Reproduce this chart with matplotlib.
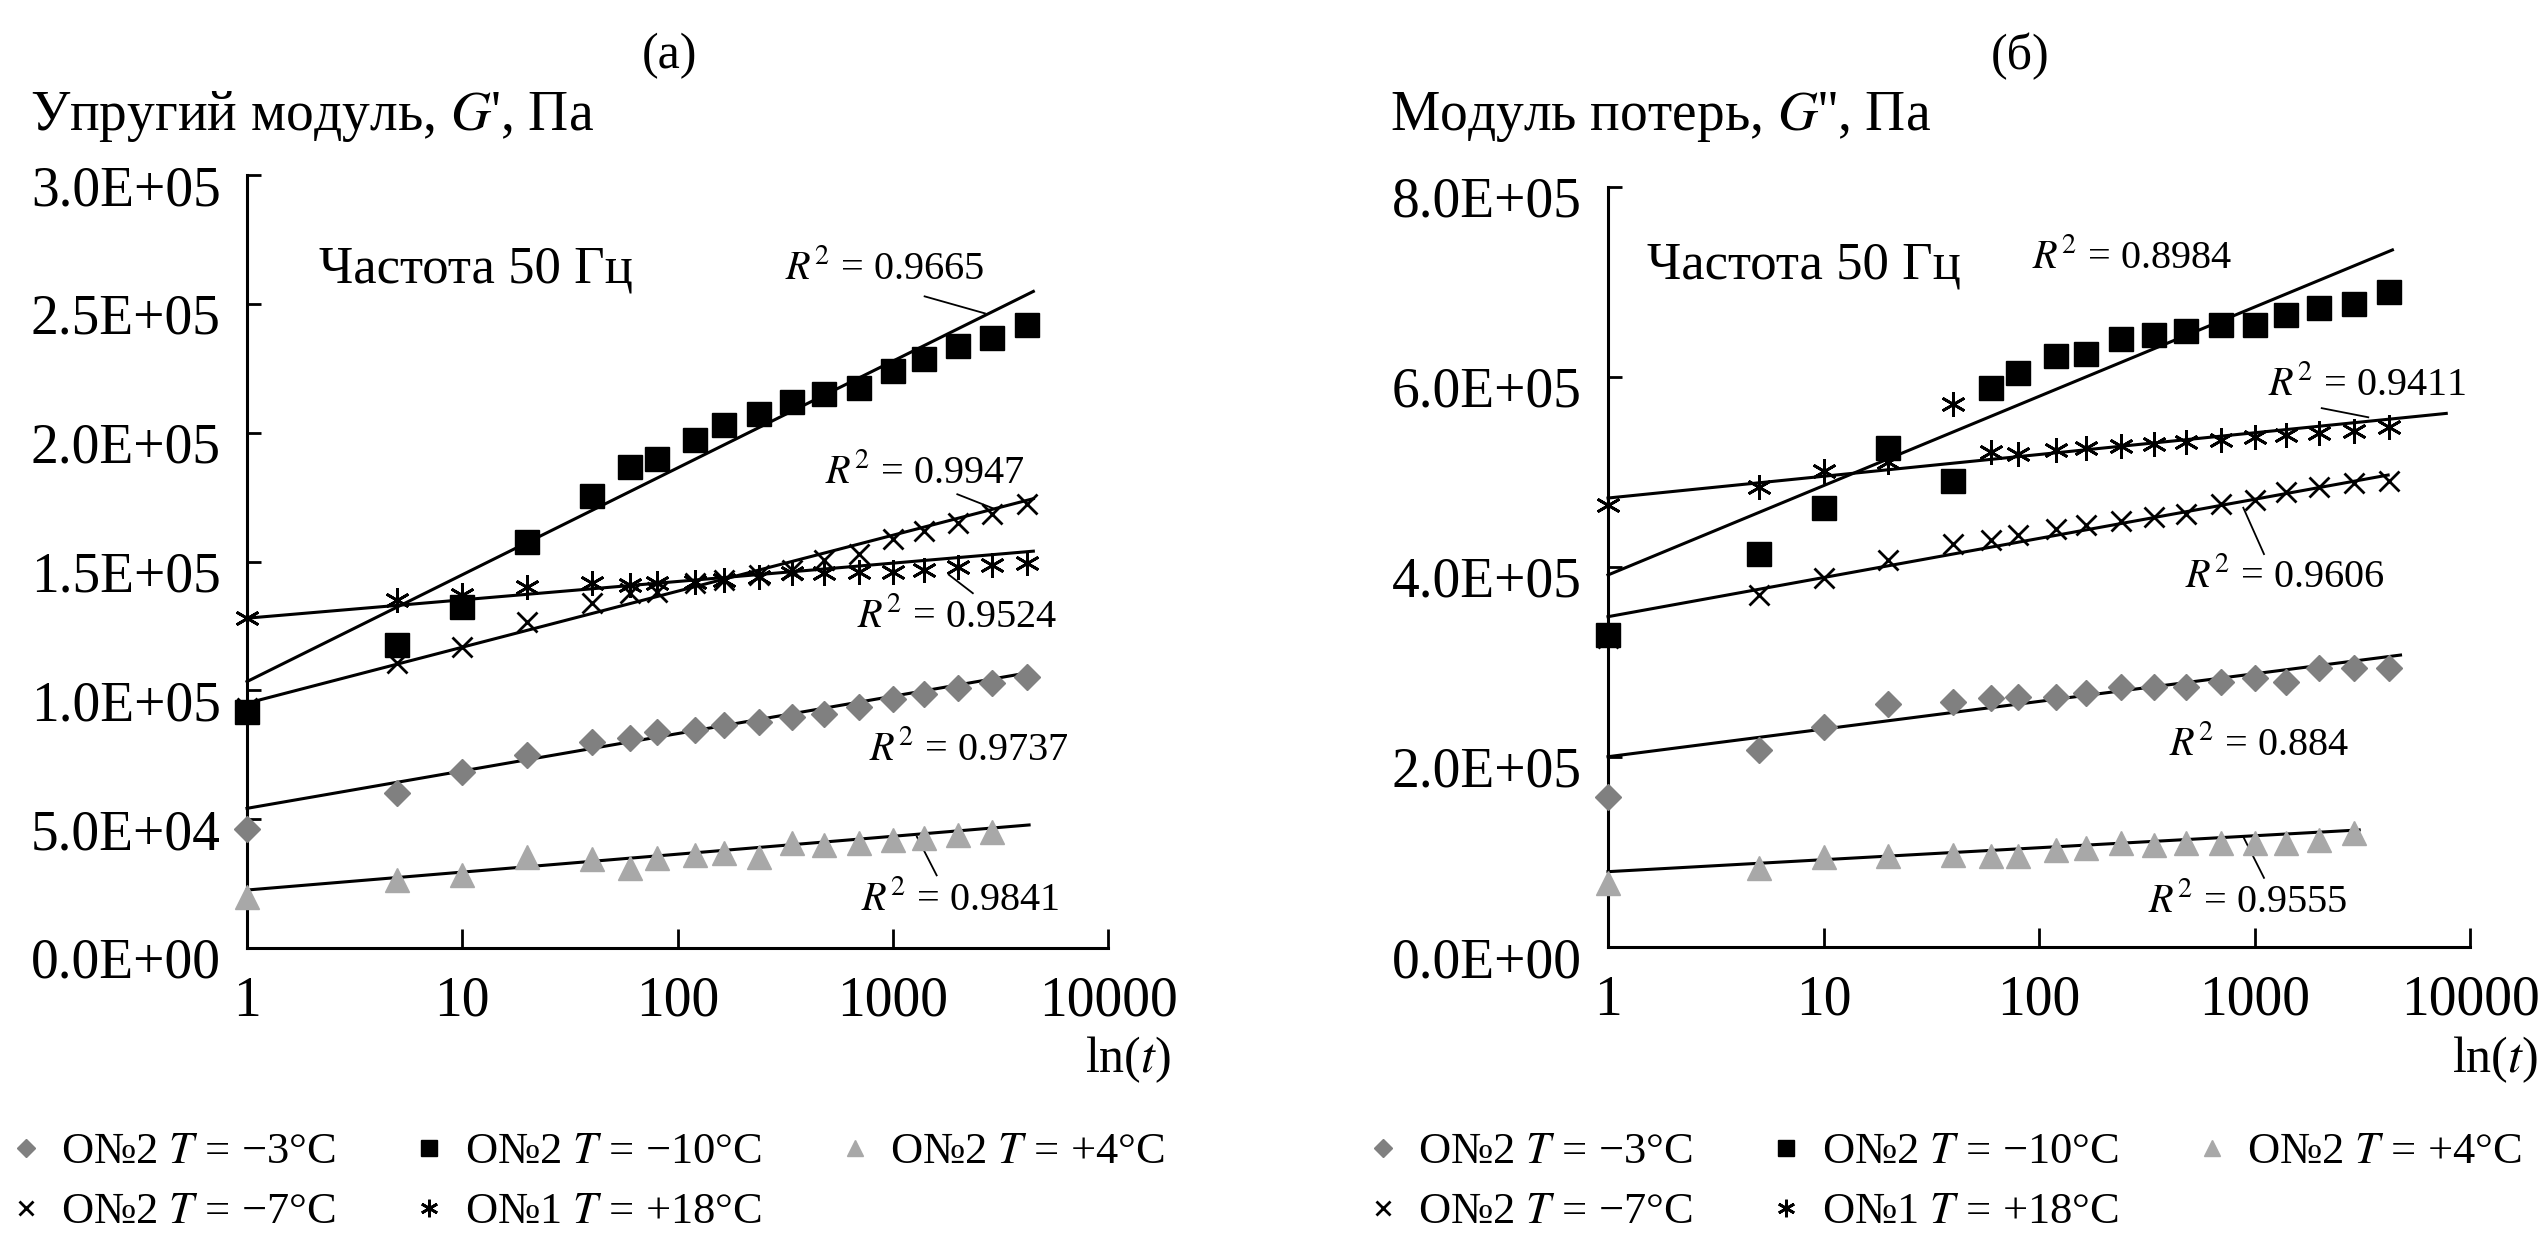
import numpy as np
import matplotlib
matplotlib.use('Agg')
import matplotlib.pyplot as plt
import matplotlib.transforms as mtransforms
from matplotlib.lines import Line2D
from matplotlib.ticker import FixedLocator, FuncFormatter, NullLocator

plt.rcParams['font.family'] = ['Liberation Serif', 'DejaVu Serif']
plt.rcParams['mathtext.fontset'] = 'stix'

# time points, ln(t) axis
t = [1, 5, 10, 20, 40, 60, 80, 120, 165, 240, 340, 480, 700, 1000, 1400, 2000, 2900, 4200]

# (a) elastic modulus G', Pa
g1_m3 = [46000, 60300, 68400, 74900, 80100, 81600, 84000, 84600, 86500, 87800,
         89800, 90800, 93400, 96500, 98600, 100800, 102700, 105300]
g1_m10 = [91500, 117600, 132500, 157500, 175400, 186600, 189600, 197000, 203000, 207400,
          211900, 214900, 217200, 223900, 228400, 233600, 236600, 241800]
g1_p4 = [19900, 26400, 28300, 35400, 34400, 30900, 34800, 36100, 36800, 35400,
         40600, 40000, 40600, 41900, 42600, 43900, 45200]
g1_m7 = [93000, 110500, 117000, 126700, 133800, 137700, 138000, 141600, 142800, 144800,
         146700, 150700, 153000, 158900, 161900, 164900, 168600, 172400]
g1_p18 = [128000, 135000, 137000, 140200, 141500, 140800, 141500, 142200, 142800, 144100,
          145400, 145400, 146000, 146000, 146700, 148000, 148600, 149300]

# (б) loss modulus G'', Pa
g2_m3 = [158200, 207400, 231900, 255800, 258200, 261800, 263500, 263500, 267000, 274000,
         274000, 274000, 279300, 282800, 279300, 293300, 293300, 293300]
g2_m10 = [328400, 413900, 462400, 525200, 490700, 587900, 604200, 622300, 624400, 640500,
          644600, 648600, 654700, 654700, 664800, 672900, 677000, 689100]
g2_p4 = [67000, 82800, 95000, 95800, 96800, 95800, 95800, 102100, 103900, 109100,
         107400, 109100, 109100, 109100, 109100, 112600, 119700]
g2_m7 = [325000, 370500, 388100, 407400, 424000, 428000, 434100, 440200, 444200, 448200,
         452300, 456300, 466500, 470500, 478600, 484700, 488700, 490700]
g2_p18 = [465000, 484700, 500800, 511000, 571800, 521100, 519100, 523100, 525200, 527100,
          529200, 531200, 533300, 537300, 539300, 541400, 543400, 547400]

# log trend lines y = a + b*log10(t): order -3, -10, +4, -7, +18
fit1_a = [54200, 103400, 22500, 95000, 128000]
fit1_b = [14500, 41450, 6950, 21730, 7120]
fit1_end = [4300, 4500, 4300, 4500, 4500]
fit2_a = [200300, 391600, 79300, 347700, 472600]
fit2_b = [29100, 94000, 12600, 41190, 22900]
fit2_end = [4760, 4365, 3060, 4170, 7760]

labels = ['О№2 $T$ = −3°C', 'О№2 $T$ = −10°C', 'О№2 $T$ = +4°C',
          'О№2 $T$ = −7°C', 'О№1 $T$ = +18°C']
r2_left = ['0.9737', '0.9665', '0.9841', '0.9947', '0.9524']
r2_right = ['0.884', '0.8984', '0.9555', '0.9606', '0.9411']
xticks = [1, 10, 100, 1000, 10000]

styles = [
    dict(marker='D', ms=13, color='#808080', mec='#808080'),
    dict(marker='s', ms=17, color='black', mec='black'),
    dict(marker='^', ms=17, color='#a8a8a8', mec='#a8a8a8'),
    dict(marker='x', ms=14, color='black', mew=2),
    dict(marker=(6, 2, 0), ms=18, color='black', mew=2),
]

W, H = 2548, 1243
fig = plt.figure(figsize=(W / 100, H / 100), dpi=100)
ax1 = fig.add_axes([247 / W, 1 - 948 / H, 861 / W, 773 / H])
ax2 = fig.add_axes([1608 / W, 1 - 947 / H, 862 / W, 760 / H])


def draw(ax, series, fa, fb, fe):
    for y, a, b, e, st in zip(series, fa, fb, fe, styles):
        ax.plot(t[:len(y)], y, ls='none', clip_on=False, zorder=3, **st)
        xx = np.array([1, e])
        ax.plot(xx, a + b * np.log10(xx), color='black', lw=2.2, zorder=2, clip_on=False)


def style(ax, ymax, ystep):
    ax.set_xscale('log')
    ax.set_xlim(1, 10000)
    ax.set_ylim(0, ymax)
    ax.xaxis.set_major_locator(FixedLocator(xticks))
    ax.xaxis.set_minor_locator(NullLocator())
    ax.xaxis.set_major_formatter(FuncFormatter(lambda v, p: f'{v:g}'))
    ax.set_yticks(np.arange(0, ymax + 1, ystep))
    ax.yaxis.set_major_formatter(FuncFormatter(lambda v, p: f'{v:.1E}'))
    for s in ['top', 'right']:
        ax.spines[s].set_visible(False)
    for s in ['left', 'bottom']:
        ax.spines[s].set_linewidth(2.2)
    ax.tick_params(axis='x', direction='in', length=14, width=2, labelsize=40, pad=20)
    ax.tick_params(axis='y', direction='in', length=10, width=2, labelsize=40, pad=19)
    off = mtransforms.ScaledTranslation(0, -0.1, fig.dpi_scale_trans)
    for lab in ax.get_yticklabels():
        lab.set_transform(lab.get_transform() + off)


draw(ax1, [g1_m3, g1_m10, g1_p4, g1_m7, g1_p18], fit1_a, fit1_b, fit1_end)
draw(ax2, [g2_m3, g2_m10, g2_p4, g2_m7, g2_p18], fit2_a, fit2_b, fit2_end)
style(ax1, 300000, 50000)
style(ax2, 800000, 200000)

# annotations
fs_r = 29
ax1.text(0.084, 0.878, 'Частота 50 Гц', transform=ax1.transAxes, fontsize=38, va='center')
ax1.text(0.625, 0.878, '$R^2$ = ' + r2_left[1], transform=ax1.transAxes, fontsize=fs_r, va='center')
ax1.text(0.671, 0.614, '$R^2$ = ' + r2_left[3], transform=ax1.transAxes, fontsize=fs_r, va='center')
ax1.text(0.708, 0.428, '$R^2$ = ' + r2_left[4], transform=ax1.transAxes, fontsize=fs_r, va='center')
ax1.text(0.722, 0.256, '$R^2$ = ' + r2_left[0], transform=ax1.transAxes, fontsize=fs_r, va='center')
ax1.text(0.713, 0.062, '$R^2$ = ' + r2_left[2], transform=ax1.transAxes, fontsize=fs_r, va='center')
for p, q in [((0.787, 0.843), (0.857, 0.821)), ((0.825, 0.587), (0.866, 0.569)),
             ((0.843, 0.459), (0.815, 0.483)), ((0.801, 0.094), (0.778, 0.144))]:
    ax1.plot([p[0], q[0]], [p[1], q[1]], transform=ax1.transAxes, color='black', lw=1.3)

ax2.text(0.045, 0.897, 'Частота 50 Гц', transform=ax2.transAxes, fontsize=38, va='center')
ax2.text(0.492, 0.907, '$R^2$ = ' + r2_right[1], transform=ax2.transAxes, fontsize=fs_r, va='center')
ax2.text(0.766, 0.739, '$R^2$ = ' + r2_right[4], transform=ax2.transAxes, fontsize=fs_r, va='center')
ax2.text(0.669, 0.487, '$R^2$ = ' + r2_right[3], transform=ax2.transAxes, fontsize=fs_r, va='center')
ax2.text(0.651, 0.266, '$R^2$ = ' + r2_right[0], transform=ax2.transAxes, fontsize=fs_r, va='center')
ax2.text(0.626, 0.059, '$R^2$ = ' + r2_right[2], transform=ax2.transAxes, fontsize=fs_r, va='center')
for p, q in [((0.828, 0.709), (0.882, 0.697)), ((0.761, 0.517), (0.737, 0.578)),
             ((0.761, 0.091), (0.737, 0.145))]:
    ax2.plot([p[0], q[0]], [p[1], q[1]], transform=ax2.transAxes, color='black', lw=1.3)

# titles and axis names
fig.text(670 / W, 1 - 56 / H, '(а)', fontsize=36, ha='center', va='center')
fig.text(2020 / W, 1 - 56 / H, '(б)', fontsize=36, ha='center', va='center')
fig.text(30 / W, 1 - 130 / H, "Упругий модуль, $G$', Па", fontsize=40, va='baseline')
fig.text(1390 / W, 1 - 130 / H, "Модуль потерь, $G$'', Па", fontsize=40, va='baseline')
fig.text(1128 / W, 1 - 1060 / H, 'ln($t$)', fontsize=36, ha='center', va='center')
fig.text(2495 / W, 1 - 1060 / H, 'ln($t$)', fontsize=36, ha='center', va='center')

# legends
handles = []
for st, lab in zip(styles, labels):
    kw = dict(st)
    kw['ms'] = kw['ms'] * 0.7
    handles.append(Line2D([], [], ls='none', label=lab, **kw))
order = [0, 3, 1, 4, 2]
for x0 in [8, 1365]:
    fig.legend([handles[i] for i in order], [labels[i] for i in order],
               loc='upper left', bbox_to_anchor=(x0 / W, 1 - 1132 / H), ncol=3,
               frameon=False, fontsize=32, handlelength=0.8, handletextpad=0.4,
               columnspacing=1.7, labelspacing=0.45, borderaxespad=0, borderpad=0)

fig.savefig('out.png', dpi=100)
